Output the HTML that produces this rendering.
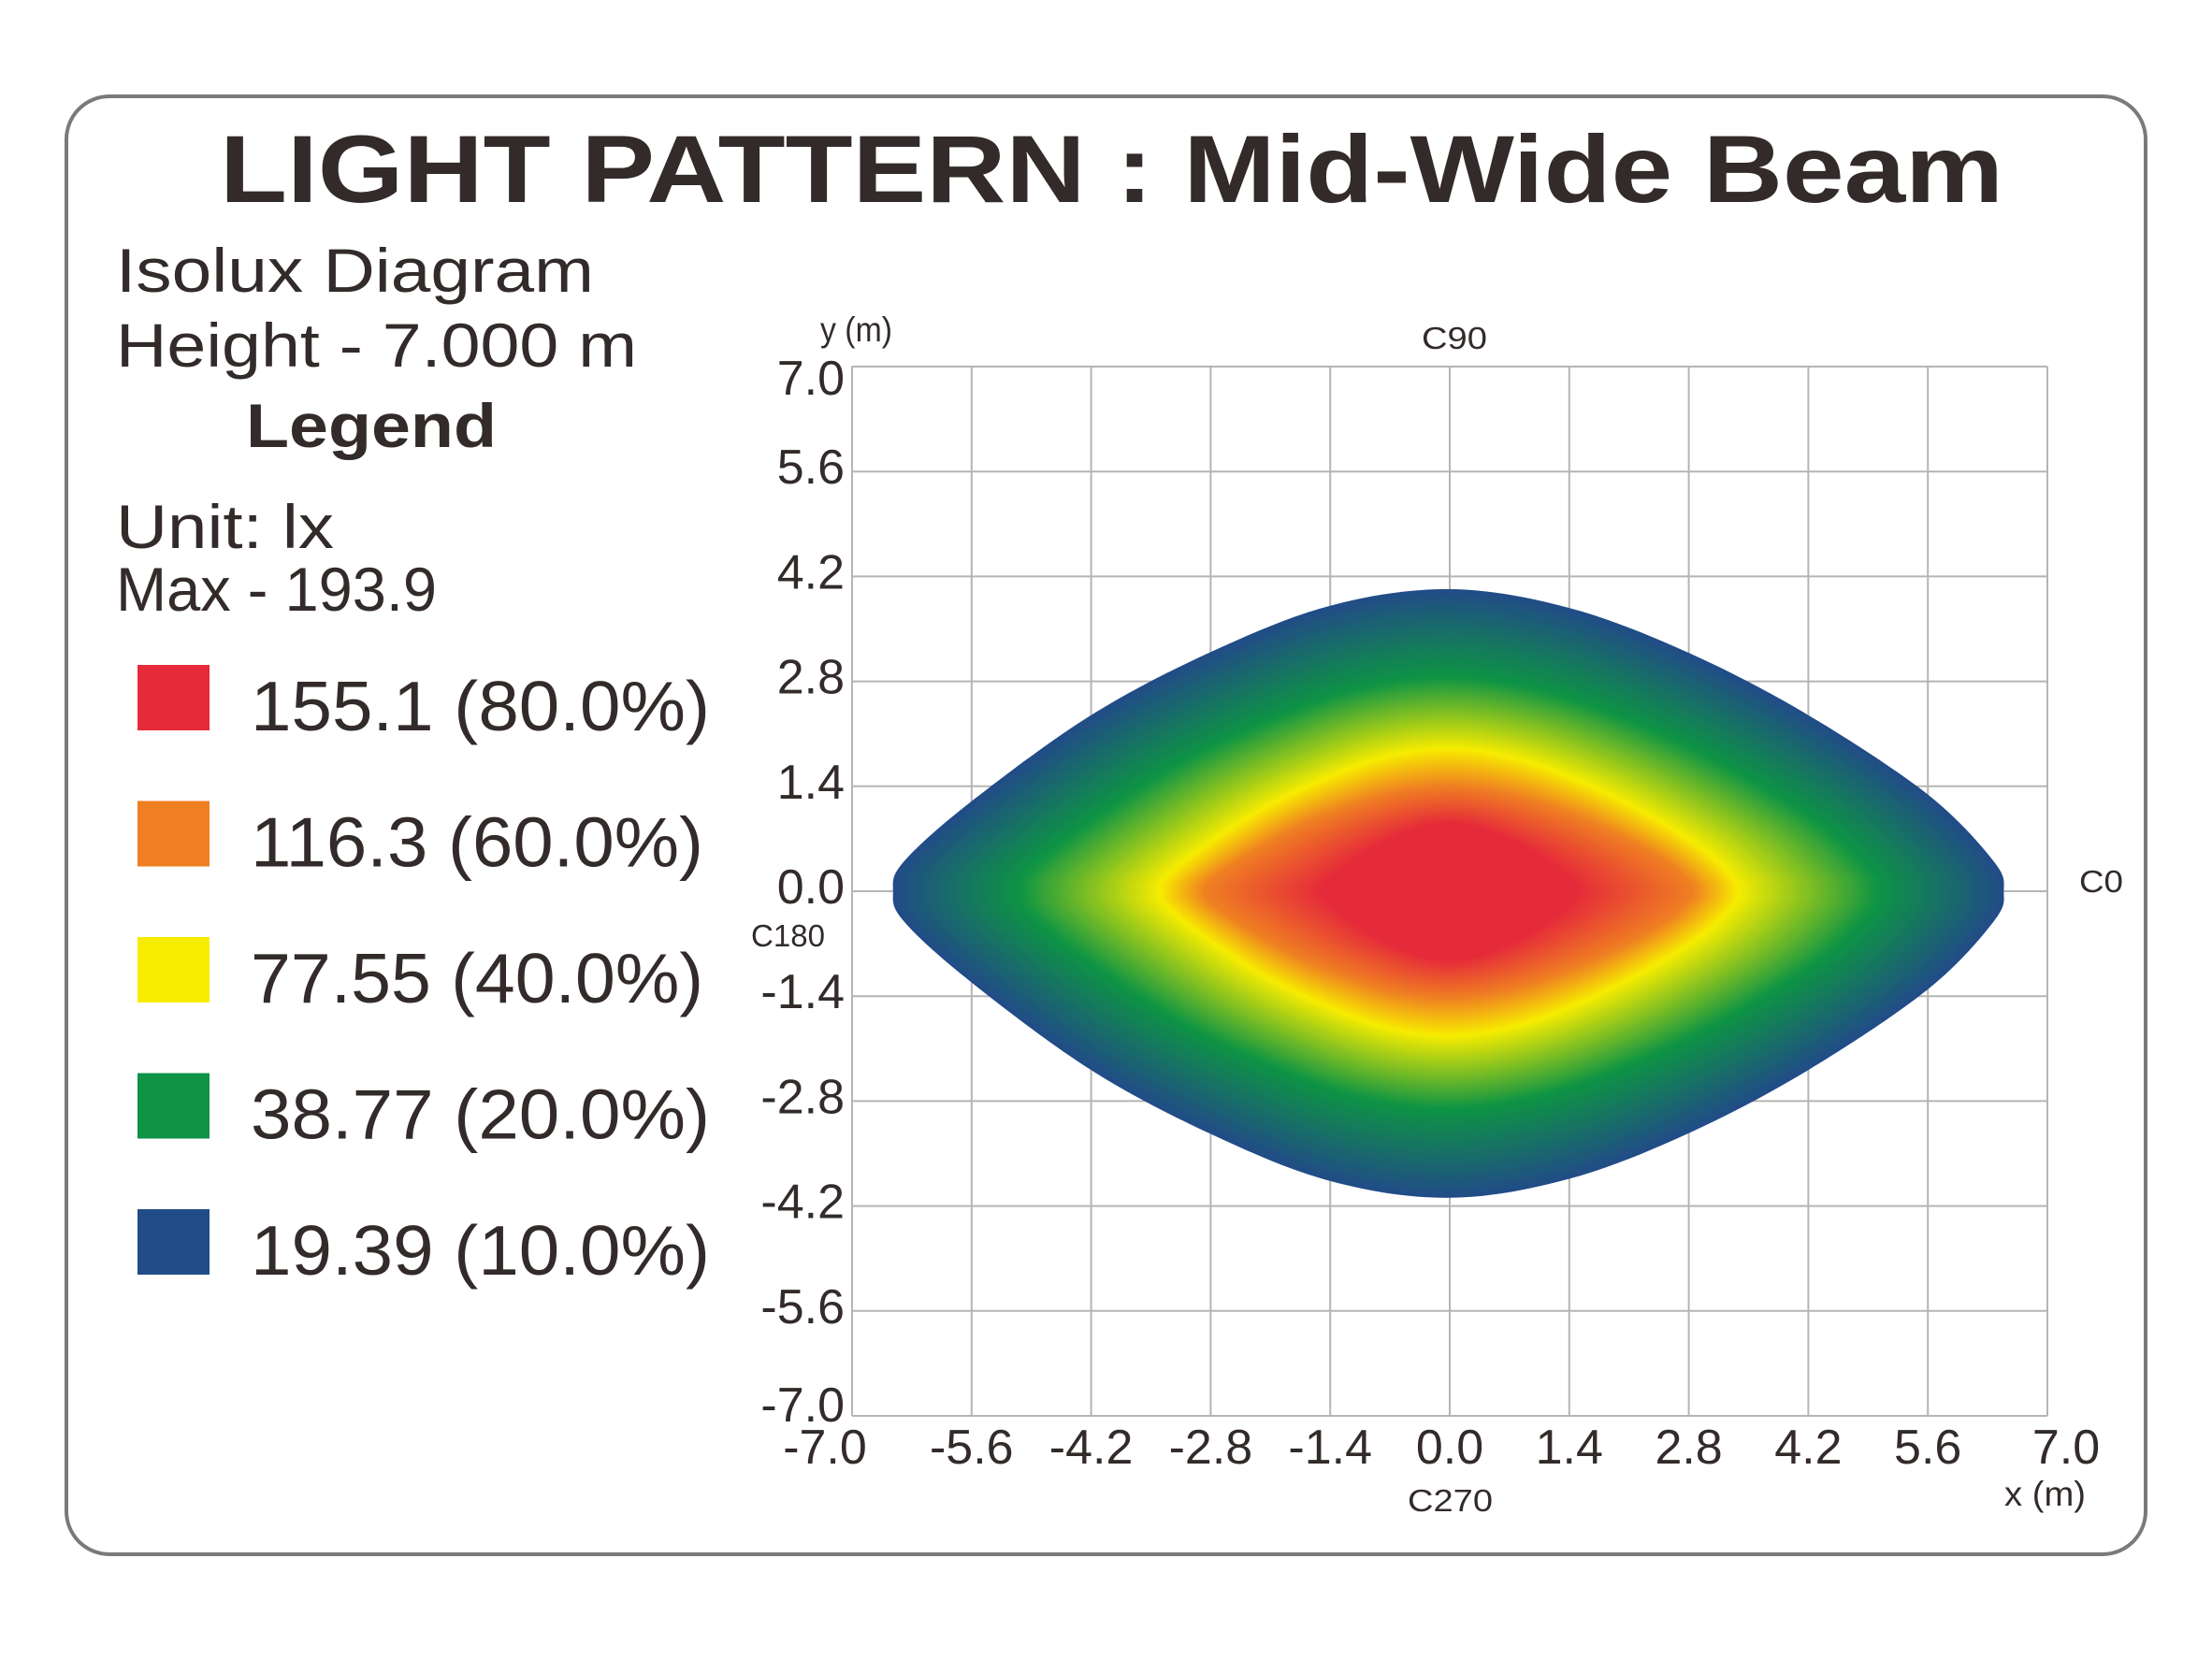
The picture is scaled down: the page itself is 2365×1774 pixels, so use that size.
<!DOCTYPE html>
<html><head><meta charset="utf-8"><style>
html,body{margin:0;padding:0;background:#fff}
svg{display:block}
text{font-family:"Liberation Sans",Arial,sans-serif;fill:#322b2a}
</style></head><body>
<svg id="c" width="2365" height="1774" viewBox="0 0 2365 1774" xmlns="http://www.w3.org/2000/svg">
<rect x="71" y="103" width="2223" height="1559" rx="46" ry="46" fill="#fff" stroke="#7a7a7a" stroke-width="4"/>
<text x="235" y="216" font-size="102" font-weight="bold" textLength="1907" lengthAdjust="spacingAndGlyphs">LIGHT PATTERN : Mid-Wide Beam</text>
<text x="124" y="312" font-size="66" textLength="511" lengthAdjust="spacingAndGlyphs">Isolux Diagram</text>
<text x="124" y="392" font-size="66" textLength="557" lengthAdjust="spacingAndGlyphs">Height - 7.000 m</text>
<text x="263" y="478" font-size="66" font-weight="bold" textLength="268" lengthAdjust="spacingAndGlyphs">Legend</text>
<text x="124" y="586" font-size="66" textLength="233" lengthAdjust="spacingAndGlyphs">Unit: lx</text>
<text x="124" y="653" font-size="66" textLength="343" lengthAdjust="spacingAndGlyphs">Max - 193.9</text>
<g id="legend"></g>
<g id="grid"></g>
<g id="iso"></g>
<g id="axes"></g>
<text x="877" y="365" font-size="37" textLength="77" lengthAdjust="spacingAndGlyphs">y (m)</text>
<text x="2143" y="1610" font-size="37" textLength="87" lengthAdjust="spacingAndGlyphs">x (m)</text>
<text x="1520" y="373" font-size="33" textLength="70" lengthAdjust="spacingAndGlyphs">C90</text>
<text x="2223" y="954" font-size="33" textLength="47" lengthAdjust="spacingAndGlyphs">C0</text>
<text x="803" y="1012" font-size="33" textLength="79" lengthAdjust="spacingAndGlyphs">C180</text>
<text x="1505" y="1616" font-size="33" textLength="91" lengthAdjust="spacingAndGlyphs">C270</text>
</svg>
<script>
// ---- data ----
const legendValues = ["155.1 (80.0%)","116.3 (60.0%)","77.55 (40.0%)","38.77 (20.0%)","19.39 (10.0%)"];
const legendColors = ["#e52a3a","#ef7f22","#f7ec00","#0e9444","#214c87"];
const xTicks = [-7.0,-5.6,-4.2,-2.8,-1.4,0.0,1.4,2.8,4.2,5.6,7.0];
const yTicks = [7.0,5.6,4.2,2.8,1.4,0.0,-1.4,-2.8,-4.2,-5.6,-7.0];
// outer (10%) isolux boundary, upper half (x m, y m); lower half mirrored
const boundaryX = [-6.52,-6.39,-5.6,-4.2,-2.8,-1.4,0,1.4,2.8,4.2,5.6,6.37,6.49];
const boundaryY = [0,0.4,1.2,2.35,3.19,3.81,4.03,3.78,3.18,2.35,1.29,0.4,0];
// contour half-extents on the axes for each level (10%,20%,40%,60%,80%)
const levelPct = [10,20,40,60,80];
const levelHalfX = [6.52,5.05,3.4,2.86,1.5];
const levelHalfY = [4.03,2.87,1.91,1.41,0.91];
const levelColors = ["#214c87","#0e9444","#f7ec00","#ef7f22","#e52a3a"];

// ---- scales ----
const X0=911, X1=2189, Y0=392, Y1=1514;
const sx = v => X0 + (v+7)/14*(X1-X0);
const sy = v => Y1 - (v+7)/14*(Y1-Y0);
const NS="http://www.w3.org/2000/svg";
function mk(tag, attrs, parent){const e=document.createElementNS(NS,tag);for(const k in attrs)e.setAttribute(k,attrs[k]);parent.appendChild(e);return e;}

// legend
const lg=document.getElementById('legend');
legendValues.forEach((t,i)=>{
  const y=711+i*145.5;
  const r=mk('rect',{x:147,y:y,width:77,height:70,fill:legendColors[i]},lg);
  
  
  const tx=mk('text',{x:268,y:y+70,'font-size':75,textLength:(i==1||i==2)?484:491,lengthAdjust:'spacingAndGlyphs'},lg);
  tx.textContent=t;
  
  
});

// grid
const g=document.getElementById('grid');
xTicks.forEach(v=>{const l=mk('line',{x1:sx(v),x2:sx(v),y1:Y0,y2:Y1,stroke:'#b5b5b5','stroke-width':2},g);
  
  });
yTicks.forEach(v=>{const l=mk('line',{x1:X0,x2:X1,y1:sy(v),y2:sy(v),stroke:'#b5b5b5','stroke-width':2},g);
  
  });

// tick labels
const ax=document.getElementById('axes');
xTicks.forEach((v,i)=>{
  let cx=sx(v); if(i===0)cx-=29; if(i===xTicks.length-1)cx+=20;
  const t=mk('text',{x:cx,y:1565,'font-size':52,'text-anchor':'middle'},ax);
  t.textContent=v.toFixed(1);
  
  
});
yTicks.forEach((v,i)=>{
  let by=sy(v)+13; if(i===0)by=422; if(i===yTicks.length-1)by=1520;
  const t=mk('text',{x:903,y:by,'font-size':52,'text-anchor':'end'},ax);
  t.textContent=v.toFixed(1);
  
  
});

// isolux contours
function hex(c){return [1,3,5].map(i=>parseInt(c.substr(i,2),16));}
function mix(a,b,t){const A=hex(a),B=hex(b);return 'rgb('+A.map((v,i)=>Math.round(v+(B[i]-v)*t)).join(',')+')';}
function ringPts(kx,ky){
  const pts=[];
  for(let i=0;i<boundaryX.length;i++)pts.push([boundaryX[i]*kx,boundaryY[i]*ky]);
  for(let i=boundaryX.length-2;i>0;i--)pts.push([boundaryX[i]*kx,-boundaryY[i]*ky*1.015]);
  return pts.map(p=>[sx(p[0]),sy(p[1])]);
}
function smoothPath(P){
  const n=P.length;let d='M'+P[0][0].toFixed(1)+','+P[0][1].toFixed(1);
  for(let i=0;i<n;i++){
    const p0=P[(i-1+n)%n],p1=P[i],p2=P[(i+1)%n],p3=P[(i+2)%n];
    const c1=[p1[0]+(p2[0]-p0[0])/6,p1[1]+(p2[1]-p0[1])/6];
    const c2=[p2[0]-(p3[0]-p1[0])/6,p2[1]-(p3[1]-p1[1])/6];
    d+='C'+c1[0].toFixed(1)+','+c1[1].toFixed(1)+' '+c2[0].toFixed(1)+','+c2[1].toFixed(1)+' '+p2[0].toFixed(1)+','+p2[1].toFixed(1);
  }
  return d+'Z';
}
const iso=document.getElementById('iso');
const bx0=levelHalfX[0], by0=levelHalfY[0];
const STEPS=40;
for(let k=0;k<levelPct.length-1;k++){
  for(let s=0;s<STEPS;s++){
    const t=s/STEPS;
    const hx=levelHalfX[k]+(levelHalfX[k+1]-levelHalfX[k])*t;
    const hy=levelHalfY[k]+(levelHalfY[k+1]-levelHalfY[k])*t;
    const p=mk('path',{d:smoothPath(ringPts(hx/bx0,hy/by0)),fill:mix(levelColors[k],levelColors[k+1],t)},iso);
    
    
  }
}
const last=levelPct.length-1;
const core=mk('path',{d:smoothPath(ringPts(levelHalfX[last]/bx0,levelHalfY[last]/by0)),fill:levelColors[last]},iso);


</script>
</body></html>
